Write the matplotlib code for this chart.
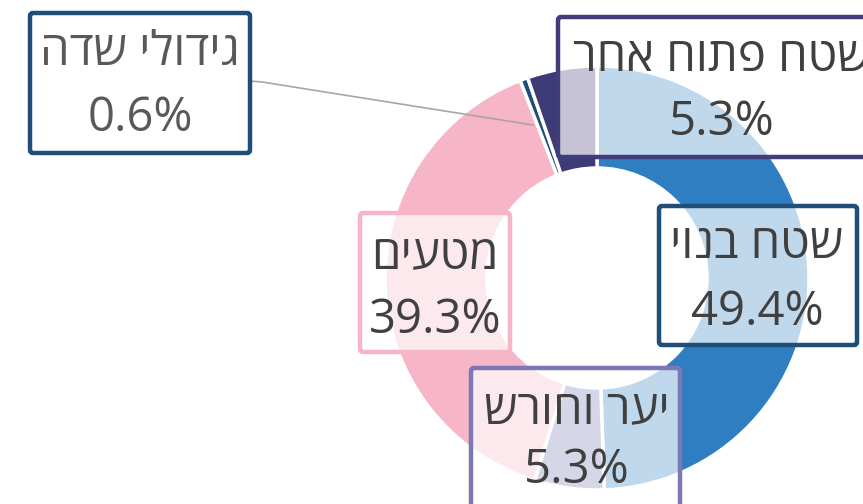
import matplotlib.pyplot as plt
from matplotlib.patches import FancyBboxPatch

plt.rcParams['font.family'] = ['Open Sans', 'DejaVu Sans']

# נתונים
categories = ['שטח בנוי', 'יער וחורש', 'מטעים', 'גידולי שדה', 'שטח פתוח אחר']
values = [49.4, 5.3, 39.3, 0.6, 5.3]
colors = ['#2E7EC1', '#7878B8', '#F7B6C8', '#1F4E79', '#3E3A76']
edge_colors = ['#1F4E79', '#7B78B5', '#F7B6C8', '#1F4E79', '#403D7A']
text_colors = ['#404040', '#404040', '#404040', '#595959', '#404040']

W, H = 863, 504
fig = plt.figure(figsize=(W / 100, H / 100), dpi=100)
ax = fig.add_axes([0, 0, 1, 1])

cx, cy = 597, H - 278
ax.pie(values, colors=colors, startangle=90, counterclock=False,
       radius=212, center=(cx, cy),
       wedgeprops=dict(width=102, edgecolor='white', linewidth=2.5))

ax.set_xlim(0, W)
ax.set_ylim(0, H)
ax.set_aspect('equal')
ax.axis('off')

# מיקום תיבות התוויות (x0, y0, x1, y1 בפיקסלים מלמעלה)
boxes = [
    (659, 206, 857, 345),
    (471, 368, 680, 520),
    (360, 213, 510, 352),
    (30, 13, 250, 153),
    (558, 17, 880, 157),
]
text_x = [757, 577, 435, 140, 722]
line1_y = [245, 410, 255, 52, 58]
line2_y = [312, 470, 320, 118, 122]

# קו מוביל לגידולי שדה
ax.plot([250, 262, 533], [H - 81, H - 82, H - 125], color='#A6A6A6', lw=1.2, zorder=3)

for i, cat in enumerate(categories):
    x0, y0, x1, y1 = boxes[i]
    box = FancyBboxPatch((x0, H - y1), x1 - x0, y1 - y0,
                         boxstyle='round,pad=0,rounding_size=3',
                         facecolor=(1, 1, 1, 0.7), edgecolor=edge_colors[i],
                         linewidth=3.2, zorder=4)
    ax.add_patch(box)
    ax.text(text_x[i], H - line1_y[i], cat[::-1], ha='center', va='center',
            fontsize=34, color=text_colors[i], zorder=5)
    ax.text(text_x[i], H - line2_y[i], f'{values[i]:.1f}%', ha='center', va='center',
            fontsize=34, color=text_colors[i], zorder=5)

fig.savefig('out.png', dpi=100)
